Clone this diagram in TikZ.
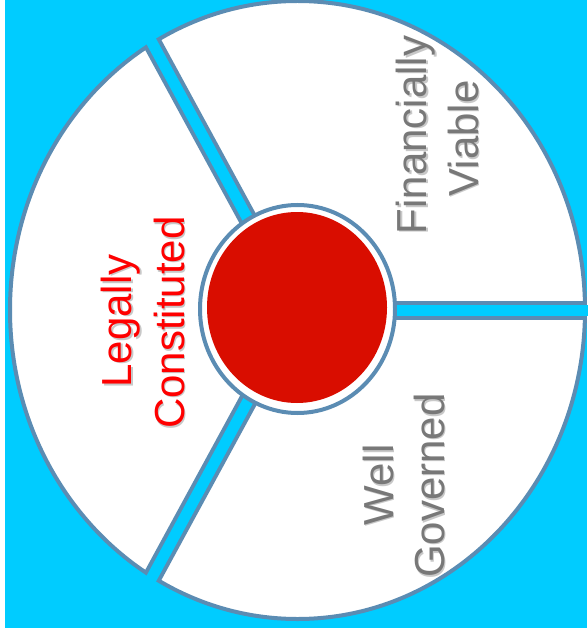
\documentclass[tikz,border=0pt]{standalone}
\usepackage{fontspec}
\setmainfont{Liberation Sans}
\definecolor{cyanbg}{RGB}{0,204,255}
\definecolor{bordercol}{RGB}{91,140,179}
\definecolor{redfill}{RGB}{217,13,0}
\definecolor{redtxt}{RGB}{255,0,0}
\definecolor{graytxt}{RGB}{120,120,120}
\definecolor{shadowcol}{RGB}{200,200,200}
\begin{document}
\begin{tikzpicture}[x=1pt,y=-1pt,
  lbl/.style={rotate=90, anchor=base, inner sep=0pt, font=\fontsize{42}{50}\selectfont},
  shd/.style={lbl, text=shadowcol},
  bandedge/.style={draw=bordercol, line width=19pt},
  bandgap/.style={draw=cyanbg, line width=11pt}]
\useasboundingbox (0,0) rectangle (587,628);
\fill[cyanbg] (0,0) rectangle (587,628);
\fill[white] (0,0) rectangle (5,628);
% geometry
\coordinate (c) at (297.5,310);
\coordinate (r0) at (640,310);
\coordinate (r1) at (125.5,-6);
\coordinate (r2) at (125.5,626);
% outer ellipse
\filldraw[fill=white, draw=bordercol, line width=4pt] (c) ellipse [x radius=287.5pt, y radius=309pt];
% gaps between sectors
\begin{scope}
  \clip (c) ellipse [x radius=287.5pt, y radius=309pt];
  \draw[bandedge] (c) -- (r0);
  \draw[bandedge] (c) -- (r1);
  \draw[bandedge] (c) -- (r2);
\end{scope}
\draw[bandgap] (c) -- (r0);
\draw[bandgap] (c) -- (r1);
\draw[bandgap] (c) -- (r2);
% centre
\coordinate (cr) at (297.5,309);
\coordinate (cc) at (297,307.5);
\filldraw[fill=white, draw=bordercol, line width=4pt] (cr) ellipse [x radius=97.5pt, y radius=104pt];
\fill[redfill] (cc) ellipse [x radius=90pt, y radius=95.5pt];
% labels (shadows first)
\node[shd] (legallyS) at (133.2,322.5) {Legally};
\node[shd] (constS) at (185.5,324) {Constituted};
\node[shd] (finS) at (428.2,136.5) {Financially};
\node[shd] (viaS) at (479.8,139.8) {Viable};
\node[shd] (wellS) at (394.8,486.5) {Well};
\node[shd] (govS) at (445.5,487) {Governed};
\node[lbl, text=redtxt] (legally) at (131.7,321) {Legally};
\node[lbl, text=redtxt] (const) at (184,322.5) {Constituted};
\node[lbl, text=graytxt] (fin) at (426.7,135) {Financially};
\node[lbl, text=graytxt] (via) at (478.3,138.3) {Viable};
\node[lbl, text=graytxt] (well) at (393.3,485) {Well};
\node[lbl, text=graytxt] (gov) at (444,485.5) {Governed};
\end{tikzpicture}
\end{document}
